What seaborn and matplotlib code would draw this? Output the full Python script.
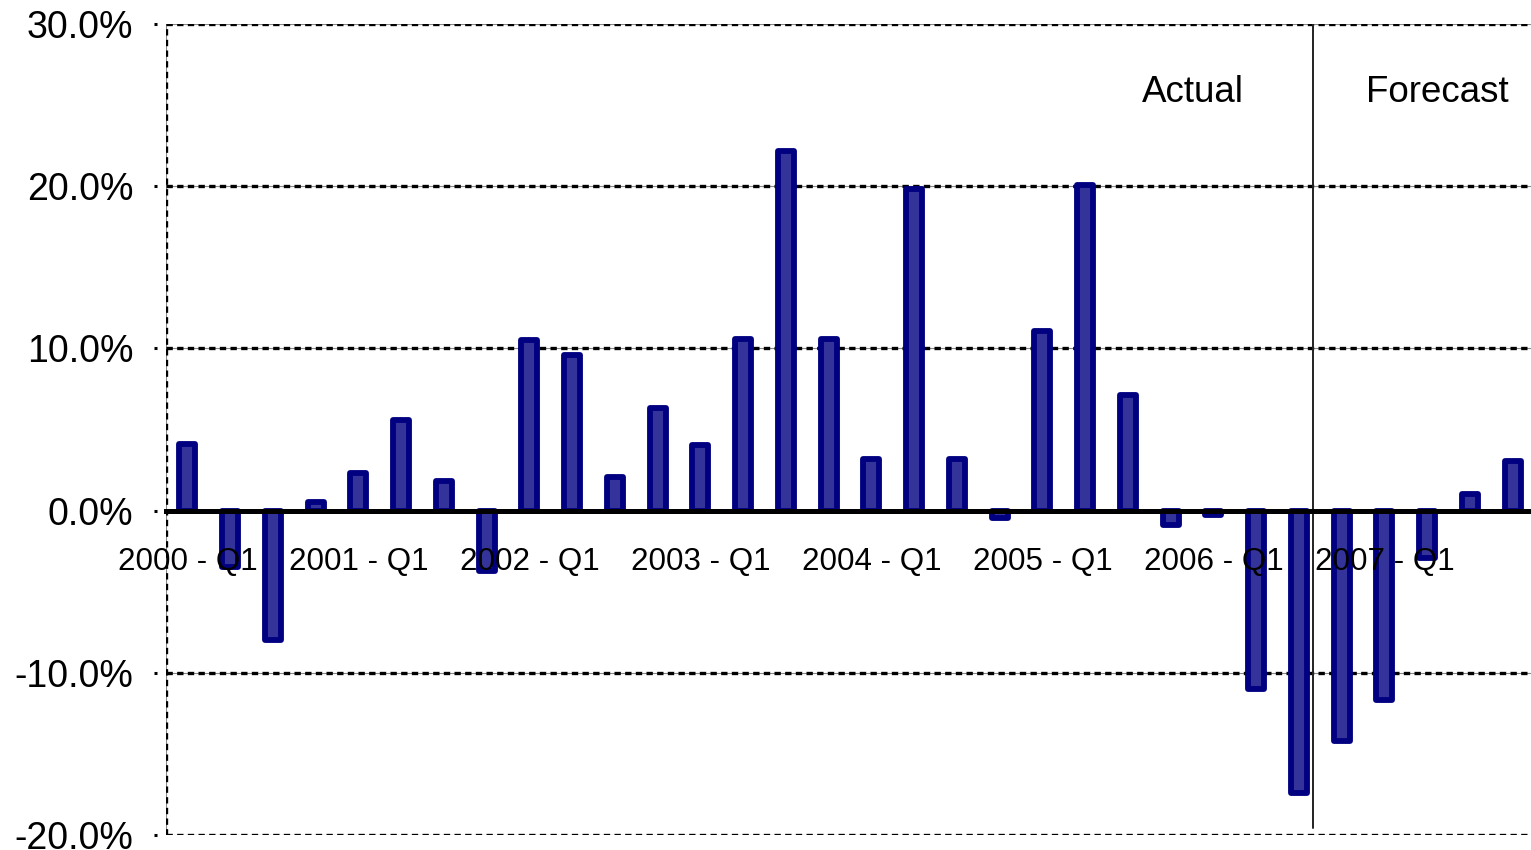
import matplotlib
matplotlib.use("Agg")
import matplotlib.pyplot as plt
import matplotlib.transforms as mtransforms
import seaborn as sns
import pandas as pd

# ================= DATA =================
years = [2000, 2001, 2002, 2003, 2004, 2005, 2006, 2007]
quarters = ["Q1", "Q2", "Q3", "Q4"]
periods = [f"{y} - {q}" for y in years for q in quarters]

growth = [
    4.1, -3.45, -7.95, 0.5,
    2.3, 5.6, 1.8, -3.75,
    10.5, 9.6, 2.05, 6.35,
    4.05, 10.55, 22.2, 10.55,
    3.2, 19.8, 3.2, -0.45,
    11.1, 20.05, 7.15, -0.87,
    -0.25, -11.0, -17.4, -14.2,
    -11.65, -2.95, 1.0, 3.07,
]

y_ticks = [-20, -10, 0, 10, 20, 30]
forecast_split = 26.34  # between 2006 Q3 and 2006 Q4
section_labels = ["Actual", "Forecast"]

df = pd.DataFrame({"period": periods, "growth": growth})

# ================= STYLE =================
sns.set_style("white")
plt.rcParams["font.family"] = ["Liberation Sans", "DejaVu Sans"]
plt.rcParams["text.color"] = "black"
plt.rcParams["xtick.color"] = "black"
plt.rcParams["ytick.color"] = "black"
plt.rcParams["xtick.labelcolor"] = "black"
plt.rcParams["ytick.labelcolor"] = "black"

W, H, DPI = 1531, 850, 100
fig = plt.figure(figsize=(W / DPI, H / DPI), dpi=DPI)
ax = fig.add_axes([166 / W, 15 / H, 1368 / W, 811 / H])

# ================= BARS =================
sns.barplot(
    data=df, x="period", y="growth", ax=ax,
    color="#333399", saturation=1, width=0.37,
    edgecolor="#000080", linewidth=4.2, zorder=3,
)
for p in ax.patches:
    p.set_joinstyle("round")
    p.set_capstyle("round")

ax.set_xlim(-0.5, 31.5)
ax.set_ylim(-20, 30)
ax.set_xlabel("")
ax.set_ylabel("")

# gridlines (dotted), including the 30% top and -20% bottom borders
for y in y_ticks:
    if y == 0:
        continue
    ax.axhline(y, color="#888888", lw=0.8, zorder=1)
    ax.axhline(y, color="black", lw=2.4, ls=(0, (1.9, 1.3)), zorder=1.5)
ax.axvline(-0.5, color="#888888", lw=0.8, zorder=1)
ax.axvline(-0.5, color="black", lw=2.4, ls=(0, (1.9, 1.3)), zorder=1.5)

# spines: category axis crosses at 0
for s in ["top", "right", "left"]:
    ax.spines[s].set_visible(False)
ax.spines["bottom"].set_position(("data", 0))
ax.spines["bottom"].set_linewidth(3.6)
ax.spines["bottom"].set_color("black")
ax.spines["bottom"].set_zorder(5)
ax.xaxis.set_zorder(6)
ax.yaxis.set_zorder(6)

# x ticks: labels at each Q1, tick marks every two quarters
q1_pos = [i for i, p in enumerate(periods) if p.endswith("Q1")]
ax.set_xticks(q1_pos)
ax.set_xticklabels([periods[i] for i in q1_pos], fontsize=22.6)
ax.set_xticks([i - 0.5 for i in range(0, len(periods), 2)], minor=True)
ax.tick_params(axis="x", which="major", length=0, pad=26.3)
ax.tick_params(axis="x", which="minor", length=7.2, width=2.9,
               color="black", direction="out")

# y ticks
ax.set_yticks(y_ticks)
ax.set_yticklabels([f"{v:.1f}%" for v in y_ticks], fontsize=27)
ax.tick_params(axis="y", length=0, pad=23.5)
tr = mtransforms.blended_transform_factory(ax.transAxes, ax.transData)
for y in y_ticks:
    ax.plot([-12 / 1368, -9 / 1368], [y, y], color="black", lw=2.2,
            transform=tr, clip_on=False, solid_capstyle="butt")

# actual / forecast split
ax.axvline(forecast_split, ymin=0.009, ymax=1, color="#222222", lw=1.4, zorder=4)
ax.text(23.51, 25.8, section_labels[0], fontsize=26.5, ha="center", va="center")
ax.text(29.24, 25.8, section_labels[1], fontsize=26.5, ha="center", va="center")

fig.savefig("out.png", dpi=DPI)
